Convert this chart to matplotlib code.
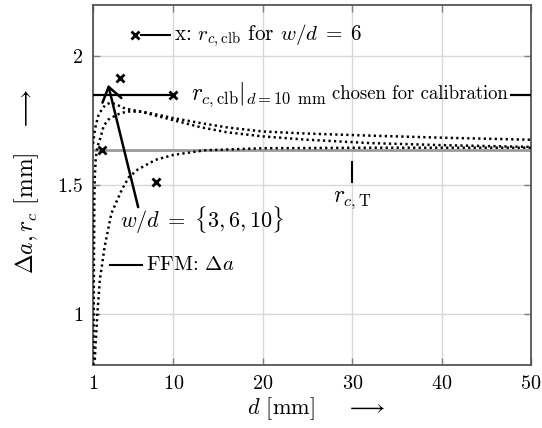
import matplotlib
matplotlib.use('Agg')
import matplotlib.pyplot as plt
import numpy as np

plt.rcParams['font.family'] = 'serif'
plt.rcParams['font.serif'] = ['cmr10']
plt.rcParams['mathtext.fontset'] = 'cm'
plt.rcParams['axes.unicode_minus'] = False
plt.rcParams['axes.formatter.use_mathtext'] = True

# FFM crack length over specimen thickness for w/d = 3, 6, 10
d_a = [1.0, 1.23, 1.6, 2.0, 2.35, 2.9, 3.5, 4.4, 5.3, 6.3, 8.0, 10.0, 13.0, 16.0, 20.0, 25.0, 32.0, 40.0, 50.0]
da_a = [1.66, 1.72, 1.77, 1.795, 1.81, 1.82, 1.815, 1.80, 1.792, 1.786, 1.77, 1.752, 1.725, 1.705, 1.689, 1.676, 1.663, 1.655, 1.648]

d_b = [1.05, 1.08, 1.1, 1.13, 1.15, 1.2, 1.3, 1.5, 1.8, 2.2, 2.7, 3.7, 4.8, 6.5, 8.0, 10.0, 13.0, 16.0, 20.0, 25.0, 32.0, 40.0, 50.0]
da_b = [0.80, 1.0, 1.2, 1.35, 1.45, 1.53, 1.6, 1.65, 1.68, 1.73, 1.754, 1.774, 1.786, 1.785, 1.775, 1.76, 1.741, 1.724, 1.708, 1.70, 1.692, 1.684, 1.676]

d_c = [1.2, 1.27, 1.49, 1.76, 2.3, 3.06, 4.2, 5.0, 6.0, 8.0, 10.0, 13.5, 20.0, 32.0, 50.0]
da_c = [0.82, 0.87, 1.0, 1.13, 1.26, 1.39, 1.48, 1.53, 1.56, 1.598, 1.617, 1.635, 1.643, 1.645, 1.645]

# critical distance from theory
r_cT = 1.635

# calibrated critical distance for w/d = 6
d_clb = [2, 4, 8, 10]
r_clb = [1.637, 1.918, 1.51, 1.85]
r_clb_10 = 1.85

fig = plt.figure(figsize=(5.42, 4.28), dpi=100)
ax = fig.add_axes([0.1716, 0.1472, 0.8081, 0.8411])

ax.axhline(r_cT, color='#9a9a9a', lw=2.0, zorder=2)
for d, da in [(d_a, da_a), (d_b, da_b), (d_c, da_c)]:
    ax.plot(d, da, color='k', ls=(0, (0.9, 1.3)), lw=1.8, zorder=3)

ax.hlines(r_clb_10, 1, 10, color='k', lw=1.6, zorder=4)
ax.hlines(r_clb_10, 47.6, 50, color='k', lw=1.6, zorder=4)
ax.plot(d_clb, r_clb, ls='none', marker='x', color='k', ms=6, mew=2, zorder=5)

ax.text(12.0, r_clb_10, r'$r_{c,\mathrm{clb}}|_{d=10\ \,\mathrm{mm}}$',
        fontsize=17, va='center', ha='left')
ax.text(47.4, r_clb_10 + 0.004, 'chosen for calibration', fontsize=13.5, va='center', ha='right')

# vertical marker and label for r_c,T
ax.plot([30, 30], [1.51, 1.59], color='k', lw=1.5)
ax.text(30, 1.44, r'$r_{c,\mathrm{T}}$', fontsize=17, ha='center', va='center')

# arrow pointing at the three curves
ax.annotate('', xy=(2.69, 1.89), xytext=(6.05, 1.414),
            arrowprops=dict(arrowstyle='->,head_length=0.5,head_width=0.35', lw=1.8, color='k',
                            shrinkA=0, shrinkB=0, mutation_scale=20))
ax.text(13.2, 1.365, r'$w/d\;=\;\{3,6,10\}$', fontsize=16, ha='center', va='center')

# legend entries drawn by hand
ax.plot([5.68], [2.082], ls='none', marker='x', color='k', ms=6, mew=2)
ax.plot([6.4, 9.6], [2.082, 2.082], color='k', lw=1.5)
ax.text(10.1, 2.082, r'x: $r_{c,\mathrm{clb}}$ for $w/d\;=\;6$', fontsize=15.2, va='center', ha='left')
ax.plot([2.91, 6.46], [1.1875, 1.1875], color='k', lw=1.5)
ax.text(6.9, 1.1875, r'FFM: $\mathit{\Delta a}$', fontsize=15, va='center', ha='left')

ax.set_xlim(1, 50)
ax.set_ylim(0.8, 2.2)
ax.set_xticks([1, 10, 20, 30, 40, 50])
ax.set_yticks([1, 1.5, 2])
ax.set_yticklabels(['1', '1.5', '2'])
ax.grid(True, color='#d8d8d8', lw=1.0, zorder=0)
ax.set_axisbelow(True)
ax.tick_params(direction='in', length=5, width=1.0, color='#808080', labelsize=14.5,
               top=True, right=True, pad=7)
for sp in ax.spines.values():
    sp.set_color('#555555')
    sp.set_linewidth(1.3)

ax.set_xlabel(r'$d$ [mm]$\quad\;\;\longrightarrow$', fontsize=16, va='center')
ax.set_ylabel(r'$\mathit{\Delta a}, r_c$ [mm]$\quad\longrightarrow$', fontsize=17, va='center')
ax.xaxis.set_label_coords(0.51, -0.12)
ax.yaxis.set_label_coords(-0.152, 0.51)

plt.savefig('out.png', dpi=100)
